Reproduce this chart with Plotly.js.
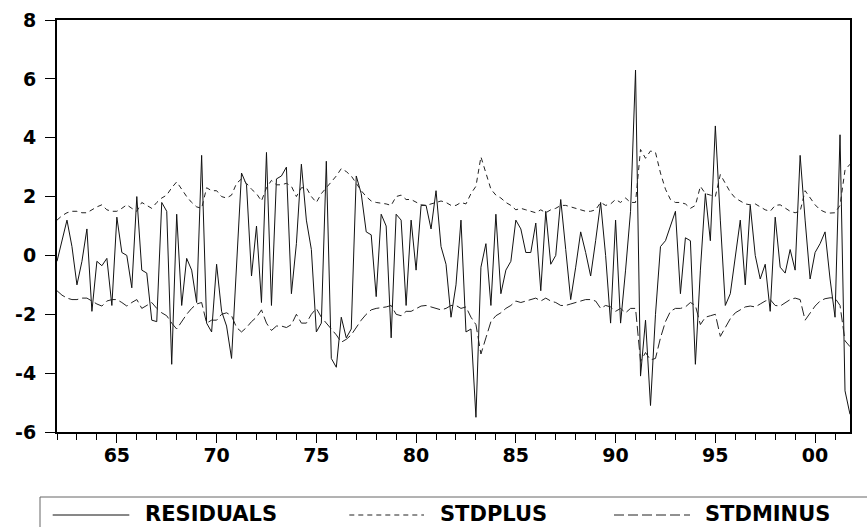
<!DOCTYPE html>
<html>
<head>
<meta charset="utf-8">
<script src="https://cdn.plot.ly/plotly-3.0.1.min.js"></script>
<style>
  html, body { margin: 0; padding: 0; background: #ffffff; }
  #chart { width: 867px; height: 527px; }
</style>
</head>
<body>
<div id="chart"></div>
<script>
// ---- DATA (quarterly, 1962Q1 - 2001Q4) ----
const startYear = 1962;
const quarters = [];
for (let y = 1962; y <= 2001; y++) { for (let q = 1; q <= 4; q++) quarters.push(y + 'Q' + q); }

const residuals = [
  -0.2, 0.5, 1.2, 0.3, -1.0, -0.2, 0.9, -1.9, -0.2, -0.35,
  -0.1, -1.7, 1.3, 0.1, 0.0, -1.1, 2.0, -0.5, -0.6, -2.2,
  -2.25, 1.8, 1.5, -3.7, 1.4, -1.7, -0.1, -0.5, -1.6, 3.4,
  -2.3, -2.6, -0.3, -1.9, -2.4, -3.5, -0.4, 2.8, 2.4, -0.7,
  1.0, -1.6, 3.5, -1.7, 2.6, 2.7, 3.0, -1.3, 0.4, 3.1,
  1.2, 0.2, -2.6, -2.3, 3.2, -3.5, -3.8, -2.1, -2.8, -2.5,
  2.7, 2.1, 0.8, 0.7, -1.4, 1.4, 1.0, -2.8, 1.4, 1.2,
  -1.7, 1.2, -0.5, 1.7, 1.7, 0.9, 2.2, 0.3, -0.3, -2.1,
  -1.0, 1.2, -2.6, -2.5, -5.5, -0.4, 0.4, -1.7, 1.4, -1.3,
  -0.5, -0.2, 1.2, 0.9, 0.1, 0.1, 1.1, -1.2, 1.5, -0.3,
  0.0, 1.9, 0.2, -1.5, -0.4, 0.8, 0.1, -0.7, 0.5, 1.8,
  0.0, -2.3, 1.2, -2.3, -0.5, 1.5, 6.3, -4.1, -2.2, -5.1,
  -2.0, 0.3, 0.5, 1.0, 1.5, -1.3, 0.6, 0.5, -3.7, -0.5,
  2.1, 0.5, 4.4, 1.2, -1.7, -1.3, 0.0, 1.2, -1.0, 1.7,
  0.0, -0.8, -0.3, -1.9, 1.3, -0.4, -0.6, 0.2, -0.5, 3.4,
  1.2, -0.8, 0.1, 0.4, 0.8, -0.8, -2.1, 4.1, -4.6, -5.4
];

const stdplus = [
  1.2, 1.35, 1.45, 1.5, 1.5, 1.45, 1.45, 1.55, 1.65, 1.72,
  1.55, 1.5, 1.5, 1.6, 1.72, 1.6, 1.5, 1.8, 1.7, 1.6,
  1.8, 1.95, 2.05, 2.3, 2.5, 2.25, 2.0, 1.8, 1.65, 1.6,
  2.3, 2.2, 2.2, 2.0, 1.95, 2.05, 2.45, 2.6, 2.45, 2.25,
  2.1, 1.85, 2.3, 2.55, 2.4, 2.4, 2.45, 2.35, 2.0, 2.3,
  2.3, 2.0, 1.8, 2.1, 2.3, 2.5, 2.7, 2.95, 2.85, 2.7,
  2.45, 2.2, 2.0, 1.85, 1.8, 1.78, 1.75, 1.7, 2.0, 2.05,
  1.9, 1.9, 1.8, 1.72, 1.7, 1.75, 1.8, 1.85, 1.8, 1.7,
  1.7, 1.8, 1.75, 2.1, 2.35, 3.35, 2.8, 2.25, 2.05, 1.95,
  1.8, 1.7, 1.55, 1.6, 1.55, 1.5, 1.45, 1.55, 1.45, 1.55,
  1.6, 1.7, 1.7, 1.65, 1.6, 1.55, 1.5, 1.5, 1.55, 1.8,
  1.7, 1.75, 1.9, 1.8, 1.95, 1.8, 1.8, 3.6, 3.3, 3.55,
  3.5, 2.8, 2.25, 1.9, 1.8, 1.8, 1.75, 1.6, 1.7, 2.35,
  2.1, 2.05, 2.0, 2.75, 2.45, 2.15, 1.95, 1.85, 1.75, 1.72,
  1.75, 1.65, 1.55, 1.5, 1.7, 1.72, 1.6, 1.5, 1.45, 1.5,
  2.2, 1.95, 1.72, 1.55, 1.47, 1.44, 1.45, 1.7, 2.9, 3.1
];

const stdminus = [
  -1.2, -1.35, -1.45, -1.5, -1.5, -1.45, -1.45, -1.55, -1.65, -1.72,
  -1.55, -1.5, -1.5, -1.6, -1.72, -1.6, -1.5, -1.8, -1.7, -1.6,
  -1.8, -1.95, -2.05, -2.3, -2.5, -2.25, -2.0, -1.8, -1.65, -1.6,
  -2.3, -2.2, -2.2, -2.0, -1.95, -2.05, -2.45, -2.6, -2.45, -2.25,
  -2.1, -1.85, -2.3, -2.55, -2.4, -2.4, -2.45, -2.35, -2.0, -2.3,
  -2.3, -2.0, -1.8, -2.1, -2.3, -2.5, -2.7, -2.95, -2.85, -2.7,
  -2.45, -2.2, -2.0, -1.85, -1.8, -1.78, -1.75, -1.7, -2.0, -2.05,
  -1.9, -1.9, -1.8, -1.72, -1.7, -1.75, -1.8, -1.85, -1.8, -1.7,
  -1.7, -1.8, -1.75, -2.1, -2.35, -3.35, -2.8, -2.25, -2.05, -1.95,
  -1.8, -1.7, -1.55, -1.6, -1.55, -1.5, -1.45, -1.55, -1.45, -1.55,
  -1.6, -1.7, -1.7, -1.65, -1.6, -1.55, -1.5, -1.5, -1.55, -1.8,
  -1.7, -1.75, -1.9, -1.8, -1.95, -1.8, -1.8, -3.6, -3.3, -3.55,
  -3.5, -2.8, -2.25, -1.9, -1.8, -1.8, -1.75, -1.6, -1.7, -2.35,
  -2.1, -2.05, -2.0, -2.75, -2.45, -2.15, -1.95, -1.85, -1.75, -1.72,
  -1.75, -1.65, -1.55, -1.5, -1.7, -1.72, -1.6, -1.5, -1.45, -1.5,
  -2.2, -1.95, -1.72, -1.55, -1.47, -1.44, -1.45, -1.7, -2.9, -3.1
];

const xTickVals = [1965, 1970, 1975, 1980, 1985, 1990, 1995, 2000];
const xTickText = ['65', '70', '75', '80', '85', '90', '95', '00'];
const yTickVals = [-6, -4, -2, 0, 2, 4, 6, 8];
const yTickText = ['-6', '-4', '-2', '0', '2', '4', '6', '8'];

const seriesNames = ['RESIDUALS', 'STDPLUS', 'STDMINUS'];

// ---- x positions from quarter labels ----
const xs = quarters.map(q => parseInt(q.slice(0, 4), 10) + (parseInt(q.slice(5), 10) - 1) / 4);

// ---- styling ----
const W = 867, H = 527;
const M = { l: 57, r: 17, t: 20, b: 95 };
const plotW = W - M.l - M.r, plotH = H - M.t - M.b;
const px2x = p => (p - M.l) / plotW;
const px2y = p => (H - M.b - p) / plotH;
const FONT = 'DejaVu Sans, Arial, sans-serif';

const styles = [
  { color: '#111111', width: 1, dash: 'solid' },
  { color: '#222222', width: 1, dash: '5px,4px' },
  { color: '#222222', width: 1, dash: '10px,4px' }
];

const ySeries = [residuals, stdplus, stdminus];
const traces = ySeries.map((ys, k) => ({
  type: 'scatter', mode: 'lines', x: xs, y: ys, name: seriesNames[k],
  line: styles[k], showlegend: false, hoverinfo: 'skip'
}));

// ---- hand-drawn legend box (EViews style) ----
const legendY = 515;
const legendItems = [
  { line: [52.7, 129.3], textX: 142.7 },
  { line: [349.3, 424.0], textX: 438.3 },
  { line: [614.0, 690.0], textX: 703.3 }
];
const shapes = [
  { type: 'rect', xref: 'paper', yref: 'paper',
    x0: px2x(40), x1: px2x(900), y0: px2y(497), y1: px2y(560),
    line: { color: '#666666', width: 1 }, fillcolor: 'rgba(0,0,0,0)' }
];
const annotations = [];
legendItems.forEach((it, k) => {
  shapes.push({ type: 'line', xref: 'paper', yref: 'paper',
    x0: px2x(it.line[0]), x1: px2x(it.line[1]), y0: px2y(legendY), y1: px2y(legendY),
    line: { color: styles[k].color, width: 1, dash: styles[k].dash } });
  annotations.push({ xref: 'paper', yref: 'paper', x: px2x(it.textX), y: px2y(514),
    xanchor: 'left', yanchor: 'middle', showarrow: false, text: seriesNames[k],
    font: { family: FONT, size: 21, weight: 'bold', color: '#000000' } });
});

const axisCommon = {
  showline: true, linecolor: '#000000', linewidth: 2, mirror: true,
  showgrid: false, zeroline: false, ticks: 'outside', tickcolor: '#000000', tickwidth: 1,
  tickmode: 'array', tickfont: { family: FONT, size: 19, weight: 'bold', color: '#000000' }
};

const layout = {
  width: W, height: H,
  margin: { l: M.l, r: M.r, t: M.t, b: M.b, pad: 0 },
  paper_bgcolor: '#ffffff', plot_bgcolor: '#ffffff',
  showlegend: false,
  xaxis: Object.assign({}, axisCommon, {
    range: [startYear, 2001.75], tickvals: xTickVals, ticktext: xTickText, ticklen: 9,
    ticklabelstandoff: -4,
    minor: { tick0: startYear, dtick: 1, ticks: 'outside', ticklen: 6, tickcolor: '#000000', tickwidth: 1, showgrid: false }
  }),
  yaxis: Object.assign({}, axisCommon, {
    range: [-6, 8], tickvals: yTickVals, ticktext: yTickText, ticklen: 10,
    ticklabelstandoff: 5
  }),
  shapes: shapes,
  annotations: annotations
};

Plotly.newPlot('chart', traces, layout, { staticPlot: true, displayModeBar: false });
</script>
</body>
</html>
